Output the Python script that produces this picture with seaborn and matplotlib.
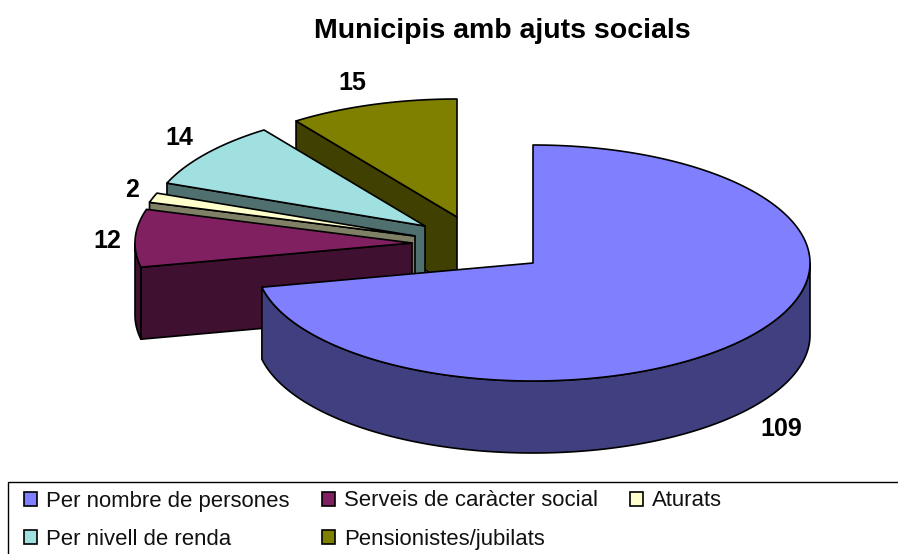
"""
3D exploded pie of municipalities with social aid, drawn as stacked polygons
"""
import matplotlib
matplotlib.use("Agg")
import matplotlib.pyplot as plt
import numpy as np
import seaborn as sns
from matplotlib.patches import Patch, Rectangle

categories = ['Per nombre de persones', 'Serveis de caràcter social', 'Aturats',
              'Per nivell de renda', 'Pensionistes/jubilats']
values = [109, 12, 2, 14, 15]
slice_colors = ['#8080FF', '#802060', '#FFFFCC', '#A0E0E0', '#808000']

# layout, in image pixels
TIPS = [(533, 263), (412, 243), (415, 236), (425, 226), (457, 217)]
LABEL_POS = [(781, 429), (107, 241), (132, 190), (179, 138), (352, 83)]
RX = 277
RY = 118
DEPTH = 72

sns.set_theme(style="white")
plt.rcParams['font.family'] = ['Liberation Sans', 'DejaVu Sans']
palette = sns.color_palette(slice_colors)


def rim(tip, start, end):
	"""Points on the top ellipse, angles in degrees clockwise from north"""
	theta = np.radians(np.linspace(start, end, max(int(end - start) * 2, 2) + 1))
	return tip[0] + RX * np.sin(theta), tip[1] - RY * np.cos(theta)


def draw_wall(ax, xs, ys, color):
	wall_x = np.concatenate([xs, xs[::-1]])
	wall_y = np.concatenate([ys, ys[::-1] + DEPTH])
	ax.fill(wall_x, wall_y, facecolor=color, edgecolor='black', linewidth=1.2, joinstyle='round')


def draw_slice(ax, tip, start, end, color):
	side = tuple(c * 0.5 for c in color)
	xs, ys = rim(tip, start, end)

	# only the faces turned towards the viewer
	if np.sin(np.radians(start)) < -1e-6:
		draw_wall(ax, np.array([tip[0], xs[0]]), np.array([tip[1], ys[0]]), side)
	if np.sin(np.radians(end)) > 1e-6:
		draw_wall(ax, np.array([tip[0], xs[-1]]), np.array([tip[1], ys[-1]]), side)
	low, high = max(start, 90), min(end, 270)
	if high > low:
		wx, wy = rim(tip, low, high)
		draw_wall(ax, wx, wy, side)

	ax.fill(np.r_[tip[0], xs], np.r_[tip[1], ys], facecolor=color, edgecolor='black',
			linewidth=1.2, joinstyle='round')


fig = plt.figure(figsize=(8.98, 5.54), dpi=100)
ax = fig.add_axes([0, 0, 1, 1])
ax.set_xlim(0, 898)
ax.set_ylim(554, 0)
ax.axis('off')

edges = np.r_[0, np.cumsum(values)] / np.sum(values) * 360

# back to front, the big slice covers the foot of all the others
for i in [4, 3, 2, 1, 0]:
	draw_slice(ax, TIPS[i], edges[i], edges[i + 1], palette[i])

for value, (x, y) in zip(values, LABEL_POS):
	ax.text(x, y, str(value), fontsize=18, fontweight='bold', ha='center', va='center', color='black')

ax.text(502, 31, 'Municipis amb ajuts socials', fontsize=20.5, fontweight='bold',
		ha='center', va='center', color='black')

ax.add_patch(Rectangle((8, 482), 900, 90, facecolor='white', edgecolor='black', linewidth=1.0))

# legend fills by column, so reorder to read row by row
order = [0, 3, 1, 4, 2]
handles = [Patch(facecolor=palette[i], edgecolor='black', linewidth=1.2) for i in order]
ax.legend(handles, [categories[i] for i in order], ncols=3, frameon=False, fontsize=15.9,
		  loc='upper left', bbox_to_anchor=(24 / 898, 1 - 490.5 / 554), borderaxespad=0, borderpad=0,
		  handlelength=0.6, handleheight=0.6, handletextpad=0.4, columnspacing=1.45, labelspacing=0.8,
		  labelcolor='#111111')

fig.savefig('out.png', dpi=100)
